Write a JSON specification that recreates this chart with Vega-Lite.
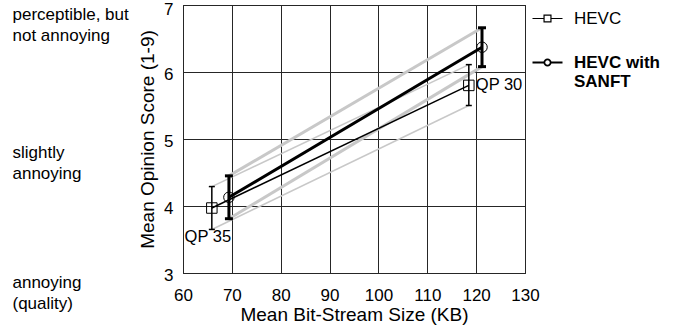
{
  "$schema": "https://vega.github.io/schema/vega-lite/v6.json",
  "width": 342,
  "height": 268,
  "autosize": {"type": "none"},
  "padding": {"left": 183, "top": 5, "right": 166, "bottom": 58},
  "background": "white",
  "config": {
    "font": "Liberation Sans",
    "view": {"stroke": "black", "strokeWidth": 1}
  },
  "data": {
    "values": [
      {"series": "HEVC", "qp": 35, "size": 65.9, "mos": 3.97, "lo": 3.65, "hi": 4.29, "label": "QP 35"},
      {"series": "HEVC", "qp": 30, "size": 118.5, "mos": 5.80, "lo": 5.50, "hi": 6.11, "label": "QP 30"},
      {"series": "HEVC with SANFT", "qp": 35, "size": 69.4, "mos": 4.13, "lo": 3.81, "hi": 4.45},
      {"series": "HEVC with SANFT", "qp": 30, "size": 121.2, "mos": 6.37, "lo": 6.08, "hi": 6.66}
    ]
  },
  "encoding": {
    "x": {
      "field": "size",
      "type": "quantitative",
      "scale": {"domain": [60, 130], "nice": false, "zero": false},
      "axis": {
        "title": "Mean Bit-Stream Size (KB)",
        "values": [60, 70, 80, 90, 100, 110, 120, 130],
        "grid": true,
        "gridColor": "#262626",
        "gridWidth": 1,
        "ticks": false,
        "domain": false,
        "labelFontSize": 17,
        "labelPadding": 14,
        "labelColor": "black",
        "labelFlush": false,
        "titleFontSize": 19,
        "titleFontWeight": "normal",
        "titleColor": "black",
        "titlePadding": 2
      }
    }
  },
  "layer": [
    {
      "mark": {"type": "line", "color": "#c8c8c8"},
      "encoding": {
        "y": {"field": "hi", "type": "quantitative", "scale": {"domain": [3, 7], "nice": false, "zero": false}, "axis": null},
        "detail": {"field": "series"},
        "strokeWidth": {"condition": {"test": "datum.series === 'HEVC'", "value": 1.5}, "value": 3}
      }
    },
    {
      "mark": {"type": "line", "color": "#c8c8c8"},
      "encoding": {
        "y": {"field": "lo", "type": "quantitative", "scale": {"domain": [3, 7], "nice": false, "zero": false}, "axis": null},
        "detail": {"field": "series"},
        "strokeWidth": {"condition": {"test": "datum.series === 'HEVC'", "value": 1.5}, "value": 3}
      }
    },
    {
      "mark": {"type": "line"},
      "encoding": {
        "y": {
          "field": "mos",
          "type": "quantitative",
          "scale": {"domain": [3, 7], "nice": false, "zero": false},
          "axis": {
            "orient": "left",
            "title": "Mean Opinion Score (1-9)",
            "values": [3, 4, 5, 6, 7],
            "grid": true,
            "gridColor": "#262626",
            "gridWidth": 1,
            "ticks": false,
            "domain": false,
            "labelFontSize": 17,
            "labelPadding": 10,
            "labelOffset": {"condition": {"test": "datum.value == 7", "value": 4}, "value": 2},
            "labelColor": "black",
            "labelFlush": false,
            "titleFontSize": 19,
            "titleFontWeight": "normal",
            "titleColor": "black",
            "titlePadding": 6
          }
        },
        "color": {
          "field": "series",
          "type": "nominal",
          "scale": {"domain": ["HEVC", "HEVC with SANFT"], "range": ["black", "black"]},
          "legend": {
            "title": null,
            "orient": "right",
            "offset": 9,
            "padding": 5,
            "labelFontSize": 17,
            "labelColor": "black",
            "labelOffset": 18,
            "labelLimit": 0,
            "labelLineHeight": 21,
            "rowPadding": 26,
            "symbolSize": 900,
            "labelExpr": "datum.label === 'HEVC with SANFT' ? ['HEVC with', 'SANFT'] : datum.label",
            "encode": {
              "symbols": {
                "update": {
                  "shape": {"signal": "datum.value === 'HEVC' ? 'M-1,0H-0.23M0.23,0H1M-0.23,-0.23H0.23V0.23H-0.23Z' : 'M-1,0H-0.21M0.21,0H1M0.21,0A0.21,0.21 0 1,1 -0.21,0A0.21,0.21 0 1,1 0.21,0Z'"},
                  "strokeWidth": {"signal": "datum.value === 'HEVC' ? 1.2 : 1.8"},
                  "fill": {"value": "transparent"},
                  "stroke": {"value": "black"},
                  "size": {"value": 900}
                }
              },
              "labels": {
                "update": {
                  "fontWeight": {"signal": "datum.value === 'HEVC' ? 'normal' : 'bold'"}
                }
              }
            }
          }
        },
        "strokeWidth": {"condition": {"test": "datum.series === 'HEVC'", "value": 1.5}, "value": 3}
      }
    },
    {
      "mark": {"type": "rule", "color": "black"},
      "encoding": {
        "y": {"field": "lo", "type": "quantitative", "scale": {"domain": [3, 7], "nice": false, "zero": false}, "axis": null},
        "y2": {"field": "hi"},
        "strokeWidth": {"condition": {"test": "datum.series === 'HEVC'", "value": 1.5}, "value": 3}
      }
    },
    {
      "mark": {"type": "point", "shape": "M-1,0L1,0", "filled": false, "color": "black", "opacity": 1},
      "encoding": {
        "y": {"field": "lo", "type": "quantitative", "scale": {"domain": [3, 7], "nice": false, "zero": false}, "axis": null},
        "size": {"condition": {"test": "datum.series === 'HEVC'", "value": 36}, "value": 64},
        "strokeWidth": {"condition": {"test": "datum.series === 'HEVC'", "value": 1.5}, "value": 3}
      }
    },
    {
      "mark": {"type": "point", "shape": "M-1,0L1,0", "filled": false, "color": "black", "opacity": 1},
      "encoding": {
        "y": {"field": "hi", "type": "quantitative", "scale": {"domain": [3, 7], "nice": false, "zero": false}, "axis": null},
        "size": {"condition": {"test": "datum.series === 'HEVC'", "value": 36}, "value": 64},
        "strokeWidth": {"condition": {"test": "datum.series === 'HEVC'", "value": 1.5}, "value": 3}
      }
    },
    {
      "mark": {"type": "point", "filled": false, "color": "black", "strokeWidth": 1, "opacity": 1},
      "encoding": {
        "y": {"field": "mos", "type": "quantitative", "scale": {"domain": [3, 7], "nice": false, "zero": false}, "axis": null},
        "shape": {"condition": {"test": "datum.series === 'HEVC'", "value": "square"}, "value": "circle"},
        "size": {"value": 110}
      }
    },
    {
      "transform": [{"filter": "datum.series === 'HEVC' && datum.qp === 30"}],
      "mark": {"type": "text", "align": "left", "baseline": "middle", "dx": 7, "fontSize": 16.5, "color": "black"},
      "encoding": {
        "y": {"field": "mos", "type": "quantitative", "scale": {"domain": [3, 7], "nice": false, "zero": false}, "axis": null},
        "text": {"field": "label"}
      }
    },
    {
      "transform": [{"filter": "datum.series === 'HEVC' && datum.qp === 35"}],
      "mark": {"type": "text", "align": "center", "baseline": "top", "dx": -4, "dy": 21, "fontSize": 16.5, "color": "black"},
      "encoding": {
        "y": {"field": "mos", "type": "quantitative", "scale": {"domain": [3, 7], "nice": false, "zero": false}, "axis": null},
        "text": {"field": "label"}
      }
    },
    {
      "mark": {"type": "point", "opacity": 0},
      "encoding": {
        "y": {
          "field": "mos",
          "type": "quantitative",
          "scale": {"domain": [3, 7], "nice": false, "zero": false},
          "axis": {
            "orient": "left",
            "title": null,
            "values": [3, 5, 7],
            "labelExpr": "datum.value == 7 ? ['perceptible, but', 'not annoying'] : datum.value == 5 ? ['slightly', 'annoying'] : ['annoying', '(quality)']",
            "labelAlign": "left",
            "labelBaseline": "top",
            "labelPadding": 0,
            "labelOffset": {"condition": {"test": "datum.value == 5", "value": 5}, "value": 1},
            "offset": 171,
            "ticks": false,
            "domain": false,
            "grid": false,
            "labelFontSize": 17,
            "labelLineHeight": 21,
            "labelColor": "black",
            "labelOverlap": false,
            "labelBound": false,
            "labelFlush": false,
            "labelLimit": 0
          }
        }
      }
    }
  ],
  "resolve": {"axis": {"y": "independent"}}
}
